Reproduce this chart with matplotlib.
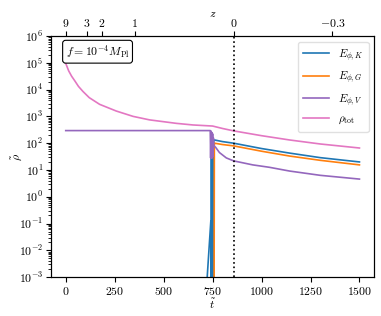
import numpy as np
import matplotlib
matplotlib.use("Agg")
import matplotlib.pyplot as plt
from matplotlib.ticker import FixedLocator, FixedFormatter, LogLocator, NullFormatter

plt.rcParams['mathtext.fontset'] = 'cm'
plt.rcParams['font.family'] = 'serif'
plt.rcParams['font.serif'] = ['cmr10', 'DejaVu Serif']
plt.rcParams['axes.formatter.use_mathtext'] = True
plt.rcParams['font.size'] = 8.5

# ---- data (log10 of rho) ----
t_tot = [0, 15, 30, 46, 65, 88, 120, 173, 258, 344, 428, 565, 650, 750, 800, 857, 1000, 1143, 1300, 1500]
log_tot = [4.98, 4.7, 4.5, 4.33, 4.12, 3.93, 3.70, 3.45, 3.2, 3.0, 2.87, 2.74, 2.68, 2.64, 2.55, 2.46, 2.28, 2.12, 1.97, 1.82]

t_K = [700, 718, 741, 742, 744, 746, 748, 750, 752, 754, 756, 760, 800, 857, 1000, 1143, 1300, 1500]
log_K = [-6, -3.5, -0.9, -6, 1.8, -6, 1.9, -6, 2.0, -6, 2.1, 2.12, 2.06, 2.0, 1.8, 1.63, 1.46, 1.3]

t_G = [700, 757, 759, 800, 857, 1000, 1143, 1300, 1500]
log_G = [-6, -6, 2.0, 1.95, 1.9, 1.7, 1.52, 1.36, 1.19]

t_V = [0, 738, 740, 742, 744, 746, 748, 750, 752, 754, 756, 765, 785, 820, 857, 955, 1040, 1143, 1300, 1500]
log_V = [2.47, 2.47, 1.45, 2.45, 1.45, 2.4, 1.45, 2.35, 1.5, 2.2, 1.9, 1.85, 1.65, 1.45, 1.34, 1.19, 1.1, 0.96, 0.8, 0.66]

x_ticks = [0, 250, 500, 750, 1000, 1250, 1500]
z_tick_pos = [0, 107, 184, 352, 857, 1362]
z_tick_labels = ['9', '3', '2', '1', '0', '-0.3']
t_z0 = 857

fig = plt.figure(figsize=(3.81, 3.16), dpi=100)
ax = fig.add_axes([0.134, 0.123, 0.848, 0.763])

ax.plot(t_K, 10**np.array(log_K), color='tab:blue', lw=1.2, label=r'$E_{\phi,K}$')
ax.plot(t_G, 10**np.array(log_G), color='tab:orange', lw=1.2, label=r'$E_{\phi,G}$')
ax.plot(t_V, 10**np.array(log_V), color='tab:purple', lw=1.2, label=r'$E_{\phi,V}$')
ax.plot(t_tot, 10**np.array(log_tot), color='tab:pink', lw=1.2, label=r'$\rho_{\rm tot}$')
ax.axvline(t_z0, color='black', ls=':', lw=1.2)

ax.set_yscale('log')
ax.set_ylim(1e-3, 1e6)
ax.set_xlim(-75, 1575)
ax.yaxis.set_major_locator(LogLocator(base=10, numticks=20))
ax.yaxis.set_minor_locator(LogLocator(base=10, subs=np.arange(2, 10), numticks=100))
ax.yaxis.set_minor_formatter(NullFormatter())
ax.xaxis.set_major_locator(FixedLocator(x_ticks))
ax.xaxis.set_major_formatter(FixedFormatter([f'${v}$' for v in x_ticks]))
ax.tick_params(axis='x', pad=2)
ax.tick_params(axis='y', which='major', pad=2)
ax.set_xlabel(r'$\tilde{t}$')
ax.set_ylabel(r'$\tilde{\rho}$')
ax.xaxis.set_label_coords(0.5, -0.082)
ax.yaxis.set_label_coords(-0.085, 0.5)

ax2 = ax.twiny()
ax2.set_xlim(ax.get_xlim())
ax2.xaxis.set_major_locator(FixedLocator(z_tick_pos))
ax2.xaxis.set_major_formatter(FixedFormatter([f'${s}$' for s in z_tick_labels]))
ax2.tick_params(axis='x', pad=1.5)
ax2.set_xlabel(r'$z$')
ax2.xaxis.set_label_coords(0.5, 1.08)

ax.text(0.045, 0.97, r'$f=10^{-4}M_{\rm Pl}$', transform=ax.transAxes, va='top', ha='left',
        fontsize=8.5, bbox=dict(boxstyle='round,pad=0.25', fc='white', ec='black', lw=0.8))

ax.legend(loc='upper right', fontsize=8, handlelength=2.3, borderpad=0.5, labelspacing=0.6,
          framealpha=0.8, edgecolor='0.85', borderaxespad=0.5)

fig.savefig('out.png', dpi=100)
